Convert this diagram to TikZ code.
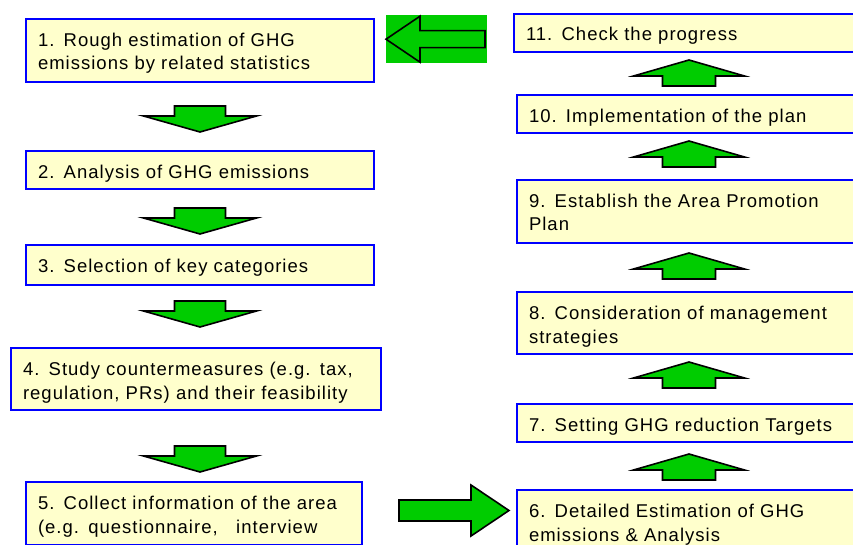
\documentclass[tikz,border=0pt]{standalone}
\usepackage{fontspec}
\setmainfont[LetterSpace=5.5]{Liberation Sans}
\usepackage{tikz}
\usetikzlibrary{calc}
\definecolor{boxfill}{HTML}{FFFFCC}
\definecolor{boxline}{HTML}{0000FF}
\definecolor{arrgreen}{HTML}{00CC00}
\tikzset{stepbox/.style={rectangle, draw=boxline, line width=2pt, fill=boxfill, anchor=north west, inner xsep=12pt, inner ysep=0pt, text height=27.5pt, align=left, font=\fontsize{18.5}{23.5}\selectfont}}
\tikzset{greenbg/.style={rectangle, fill=arrgreen, draw=none, anchor=north west}}
\tikzset{blockarr/.style={fill=arrgreen, draw=black, line width=1.6pt, line join=miter}}
\tikzset{downarr/.pic={\draw[blockarr] (-25.5,0) -- (25.5,0) -- (25.5,10) -- (56.5,10) -- (0,26) -- (-56.5,10) -- (-25.5,10) -- cycle;}}
\tikzset{uparr/.pic={\draw[blockarr] (0,0) -- (55.5,16) -- (26.5,16) -- (26.5,26) -- (-26.5,26) -- (-26.5,16) -- (-55.5,16) -- cycle;}}
\tikzset{rightarr/.pic={\draw[blockarr] (0,0) -- (-38,-25.5) -- (-38,-10.5) -- (-110,-10.5) -- (-110,10.5) -- (-38,10.5) -- (-38,25.5) -- cycle;}}
\tikzset{leftarr/.pic={\draw[blockarr] (0,0) -- (34,-23) -- (34,-8.5) -- (99,-8.5) -- (99,8.5) -- (34,8.5) -- (34,23) -- cycle;}}

\begin{document}
\begin{tikzpicture}[
	x=1pt,
	y=-1pt,
	]
	\useasboundingbox (0,0) rectangle (853,545);
	\clip (0,0) rectangle (853,545);
	% left column, going down
	\node [stepbox, text width=324pt, text depth=35.5pt] (b1) at (25,18) {1. Rough estimation of GHG\\emissions by related statistics};
	\node [stepbox, text width=324pt, text depth=10.5pt] (b2) at (25,150) {2. Analysis of GHG emissions};
	\node [stepbox, text width=324pt, text depth=12.5pt] (b3) at (25,244) {3. Selection of key categories};
	\node [stepbox, text width=346pt, text depth=34.5pt] (b4) at (10,347) {4. Study countermeasures (e.g. tax,\\regulation, PRs) and their feasibility};
	\node [stepbox, text width=312pt, text depth=35.5pt] (b5) at (25,481) {5. Collect information of the area\\(e.g. questionnaire,\ \ \ interview};
	% right column, going up
	\node [stepbox, text width=340pt, text depth=60pt] (b6) at (516,489) {6. Detailed Estimation of GHG\\emissions \& Analysis};
	\node [stepbox, text width=340pt, text depth=10.5pt] (b7) at (516,403) {7. Setting GHG reduction Targets};
	\node [stepbox, text width=340pt, text depth=34.5pt] (b8) at (516,291) {8. Consideration of management\\strategies};
	\node [stepbox, text width=340pt, text depth=35.5pt] (b9) at (516,179) {9. Establish the Area Promotion\\Plan};
	\node [stepbox, text width=340pt, text depth=10.5pt] (b10) at (516,94) {10. Implementation of the plan};
	\node [stepbox, text width=343pt, text depth=11.5pt, text height=27pt] (b11) at (513,13) {11. Check the progress};
	\node [greenbg, minimum width=101pt, minimum height=48pt] (back) at (386,15) {};

	\pic at ([yshift=-23pt]b1.south) {downarr};
	\pic at ([yshift=-18pt]b2.south) {downarr};
	\pic at ([yshift=-15pt]b3.south) {downarr};
	\pic at ($(b3.south |- b4.south)+(0,35)$) {downarr};
	\pic at ([shift={(146,-3)}]b5.east) {rightarr};
	\pic at ([shift={(173,-35)}]b6.north west) {uparr};
	\pic at ([shift={(173,-41)}]b7.north west) {uparr};
	\pic at ([shift={(173,-38)}]b8.north west) {uparr};
	\pic at ([shift={(173,-38)}]b9.north west) {uparr};
	\pic at ([shift={(173,-34)}]b10.north west) {uparr};
	\pic at (back.west) {leftarr};
\end{tikzpicture}
\end{document}
